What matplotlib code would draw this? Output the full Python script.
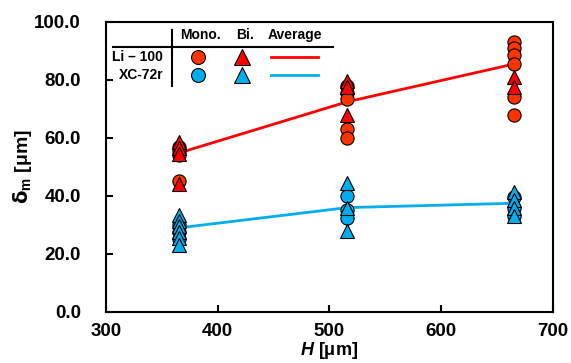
import numpy as np
import matplotlib
matplotlib.use("Agg")
from matplotlib import pyplot as plt

plt.rcParams['font.family'] = ['Liberation Sans', 'DejaVu Sans']
plt.rcParams['font.weight'] = 'bold'
plt.rcParams['mathtext.fontset'] = 'custom'
plt.rcParams['mathtext.rm'] = 'Liberation Sans:bold'
plt.rcParams['mathtext.it'] = 'Liberation Sans:bold:italic'

# data
h_li_mono = [365, 365, 365, 365, 516, 516, 516, 516, 516, 665, 665, 665, 665, 665, 665]
li_mono = [57.0, 55.5, 45.0, 54.0, 75.5, 73.5, 63.0, 60.0, 78.0, 93.0, 91.0, 88.5, 85.5, 74.0, 68.0]
h_li_bi = [365, 365, 365, 365, 516, 516, 516, 665, 665]
li_bi = [58.5, 56.5, 54.5, 44.0, 79.5, 77.5, 68.0, 81.0, 77.5]
h_xc_mono = [365, 365, 365, 516, 516, 516, 665, 665, 665]
xc_mono = [30.0, 27.5, 25.0, 40.0, 35.0, 32.5, 39.5, 36.0, 33.0]
h_xc_bi = [365, 365, 365, 365, 365, 365, 516, 516, 516, 665, 665, 665, 665]
xc_bi = [33.5, 31.5, 29.5, 27.5, 25.5, 23.0, 44.5, 36.0, 28.0, 41.5, 38.5, 36.0, 33.0]
h_avg = [365, 516, 665]
li_avg = [54.8, 72.5, 85.5]
xc_avg = [29.0, 36.0, 37.5]

red_c = '#FF3300'
red_t = '#FF0000'
red_l = '#FF0000'
blue = '#00AEEF'

fig = plt.figure(figsize=(5.71, 3.63), dpi=100)
ax = fig.add_axes([0.1856, 0.1405, 0.7829, 0.7989])

ms_c, ms_t = 9.5, 10.5
ax.plot(h_avg, li_avg, color=red_l, lw=2, zorder=2)
ax.plot(h_avg, xc_avg, color=blue, lw=2, zorder=2)
ax.plot(h_li_mono, li_mono, 'o', ms=ms_c, mfc=red_c, mec='black', mew=0.8, zorder=3)
ax.plot(h_li_bi, li_bi, '^', ms=ms_t, mfc=red_t, mec='black', mew=0.8, zorder=3)
ax.plot(h_xc_mono, xc_mono, 'o', ms=ms_c, mfc=blue, mec='black', mew=0.8, zorder=3)
ax.plot(h_xc_bi, xc_bi, '^', ms=ms_t, mfc=blue, mec='black', mew=0.8, zorder=3)

ax.set_xlim(300, 700)
ax.set_ylim(0, 100)
ax.set_xticks([300, 400, 500, 600, 700])
ax.set_yticks(np.arange(0, 101, 20))
ax.yaxis.set_major_formatter(matplotlib.ticker.FormatStrFormatter('%.1f'))
ax.tick_params(direction='in', length=5, width=1.5, labelsize=13.5)
ax.tick_params(axis='y', pad=18)
ax.tick_params(axis='x', pad=8)
for s in ax.spines.values():
    s.set_linewidth(1.5)

ax.set_xlabel(r'$\mathit{H}$ [μm]', fontsize=13, fontweight='bold', labelpad=0)
ax.set_ylabel(r'$\mathbf{\delta}_\mathrm{m}$ [μm]', fontsize=14, fontweight='bold', labelpad=0)

# table-style legend in the upper left
tr = ax.transAxes
ax.plot([0.016, 0.508], [0.914, 0.914], color='black', lw=1.5, transform=tr, clip_on=False)
ax.plot([0.148, 0.148], [0.972, 0.779], color='black', lw=1.5, transform=tr, clip_on=False)
ax.text(0.212, 0.955, 'Mono.', transform=tr, ha='center', va='center', fontsize=10)
ax.text(0.311, 0.955, 'Bi.', transform=tr, ha='center', va='center', fontsize=10)
ax.text(0.422, 0.955, 'Average', transform=tr, ha='center', va='center', fontsize=10)
ax.text(0.128, 0.879, 'Li – 100', transform=tr, ha='right', va='center', fontsize=10)
ax.text(0.128, 0.817, 'XC-72r', transform=tr, ha='right', va='center', fontsize=10)
ax.plot([0.206], [0.879], 'o', ms=10, mfc=red_c, mec='black', mew=0.8, transform=tr, clip_on=False)
ax.plot([0.206], [0.817], 'o', ms=10, mfc=blue, mec='black', mew=0.8, transform=tr, clip_on=False)
ax.plot([0.304], [0.879], '^', ms=11.5, mfc=red_t, mec='black', mew=0.8, transform=tr, clip_on=False)
ax.plot([0.304], [0.817], '^', ms=11.5, mfc=blue, mec='black', mew=0.8, transform=tr, clip_on=False)
ax.plot([0.369, 0.474], [0.879, 0.879], color=red_l, lw=2, transform=tr)
ax.plot([0.369, 0.474], [0.817, 0.817], color=blue, lw=2, transform=tr)

fig.savefig('out.png', dpi=100)
